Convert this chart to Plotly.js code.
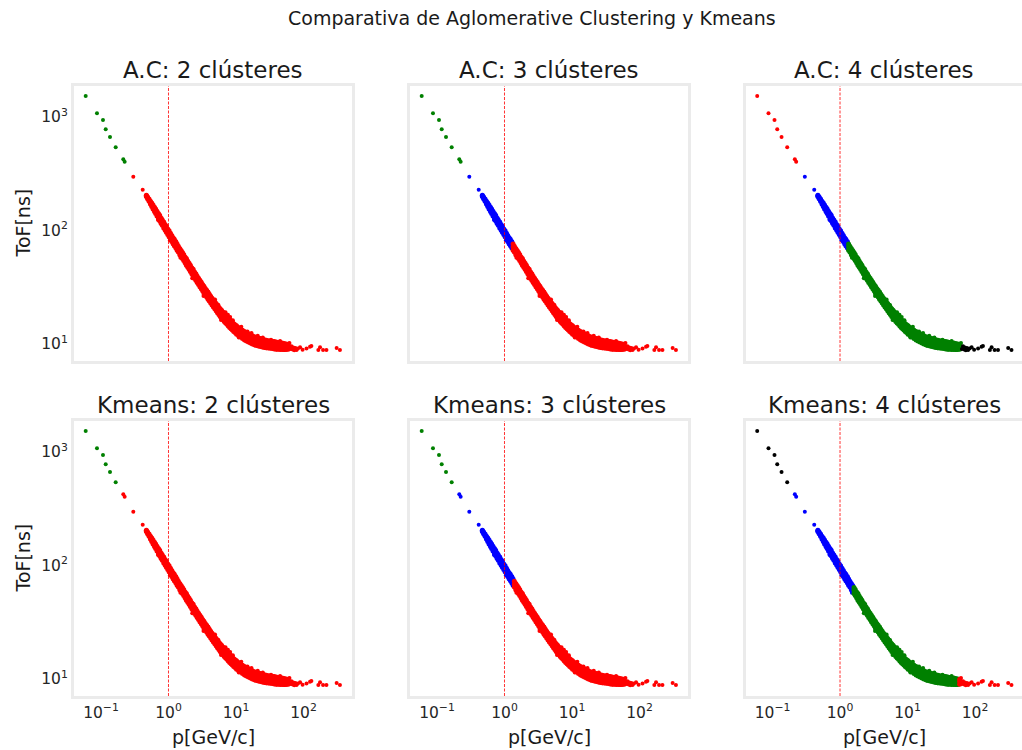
<!DOCTYPE html>
<html>
<head>
<meta charset="utf-8">
<script src="https://cdn.plot.ly/plotly-3.0.1.min.js"></script>
<style>
  html, body { margin: 0; padding: 0; background: #ffffff; }
  #chart { width: 1022px; height: 750px; }
</style>
</head>
<body>
<div id="chart"></div>
<script>
// Momentum p [GeV/c] and time of flight [ns] of the sample.
// Low-momentum isolated points.
const pHead   = [0.0593, 0.0872, 0.107, 0.1174, 0.136, 0.165, 0.214, 0.224, 0.301, 0.415];
const tofHead = [1531, 1078, 942, 780, 667, 541, 424, 403, 298, 228];

// Dense band: each momentum has an upper, a middle and a lower measurement.
const pBand = [0.47, 0.49, 0.515, 0.54, 0.565, 0.59, 0.62, 0.645, 0.675, 0.71, 0.74, 0.775, 0.81, 0.85,
  0.89, 0.93, 0.975, 1.02, 1.07, 1.12, 1.17, 1.22, 1.28, 1.34, 1.40, 1.47, 1.54, 1.61, 1.68, 1.76, 1.84,
  1.93, 2.02, 2.11, 2.21, 2.32, 2.43, 2.54, 2.66, 2.79, 2.92, 3.06, 3.20, 3.35, 3.51, 3.68, 3.85, 4.03,
  4.22, 4.42, 4.63, 4.85, 5.08, 5.32, 5.57, 5.83, 6.11, 6.40, 6.70, 7.02, 7.35, 7.70, 8.06, 8.44, 8.84,
  9.26, 9.70, 10.2, 10.9, 11.7, 12.5, 13.4, 14.3, 15.3, 16.4, 17.5, 18.8, 20.1, 21.5, 23.0, 24.6, 26.3,
  28.2, 30.1, 32.2, 34.5, 36.9, 39.5, 42.3, 45.2, 48.4, 51.8, 55.4, 59.3];
const tofUpper = [204, 197, 189, 181, 175, 168, 160, 155, 148, 141, 136, 129, 124, 119,
  113, 109, 103, 99.5, 94.5, 90.5, 86.5, 83.5, 79, 76, 72.5, 69.5, 66.5, 64, 61.5, 58.5, 56.5,
  53.5, 51.5, 49.5, 47, 45.5, 43, 41.5, 39.5, 38, 36.5, 35, 33.4, 32.2, 30.8, 29.8, 28.4, 27.4,
  26.4, 25.3, 24.4, 23.5, 22.7, 21.9, 21.1, 20.4, 19.8, 19.1, 18.6, 18.0, 17.5, 17.0, 16.4, 16.0, 15.6,
  15.1, 14.8, 14.5, 14.0, 13.6, 13.2, 12.85, 12.55, 12.3, 12.05, 11.8, 11.6, 11.45, 11.3, 11.15, 11.0, 10.9,
  10.8, 10.7, 10.6, 10.55, 10.5, 10.4, 10.3, 10.25, 10.2, 10.1, 10.0, 9.95];
const tofMiddle = [202, 194, 185, 177, 168.5, 161, 154, 147.5, 141, 134.5, 128.5, 123, 118, 112,
  107.5, 102.5, 98, 93.5, 89.5, 85.5, 81.5, 78.5, 75, 71.5, 68.5, 65.5, 63, 60.5, 57.8, 55.3, 53,
  50.6, 48.4, 46.4, 44.4, 42.6, 40.6, 38.9, 37.2, 35.7, 34.2, 32.7, 31.4, 30.1, 28.9, 27.8, 26.6, 25.6,
  24.6, 23.7, 22.7, 21.9, 21.1, 20.3, 19.6, 18.9, 18.3, 17.7, 17.2, 16.6, 16.1, 15.6, 15.2, 14.8, 14.35,
  14.0, 13.6, 13.3, 12.9, 12.5, 12.15, 11.8, 11.55, 11.3, 11.1, 10.9, 10.7, 10.55, 10.4, 10.3, 10.2, 10.1,
  10.0, 9.9, 9.85, 9.8, 9.75, 9.7, 9.65, 9.6, 9.55, 9.55, 9.5, 9.5];
const tofLower = [199, 190, 181, 171, 163, 155, 147, 141, 134, 127, 122, 116, 111, 105,
  101, 96.5, 92, 88, 84, 80, 76.5, 73.5, 70.5, 67, 64.5, 61, 59, 56.5, 54.5, 52, 49.5,
  47.5, 45.5, 43.5, 41.5, 39.5, 38, 36.5, 34.8, 33.4, 32, 30.6, 29.4, 28, 27, 25.9, 24.8, 23.9,
  23, 22, 21.2, 20.4, 19.6, 18.8, 18.2, 17.5, 16.9, 16.4, 15.8, 15.3, 14.9, 14.4, 14.0, 13.6, 13.3,
  12.9, 12.6, 12.2, 11.85, 11.5, 11.15, 10.85, 10.6, 10.4, 10.2, 10.0, 9.85, 9.7, 9.6, 9.5, 9.4, 9.3,
  9.25, 9.2, 9.15, 9.1, 9.05, 9.0, 9.0, 8.95, 8.95, 8.95, 8.95, 9.0];

// Points lying off the band edges.
const pScatter   = [0.555, 0.7, 0.8, 1.05, 1.3, 1.5, 1.9, 2.25, 2.6, 3.3, 3.9, 4.9, 5.5, 6.0, 7.0, 7.6,
  8.2, 9.0, 11, 12.0, 14.8, 17.0, 19, 21, 25, 28, 33, 40, 45, 52, 62];
const tofScatter = [167, 124, 126, 82, 80.5, 57.5, 55, 38, 41, 26.5, 28.8, 24.6, 22, 16.3, 19.0, 18.1,
  17.3, 16.2, 11.4, 14.2, 12.9, 12.5, 9.7, 11.8, 11.4, 9.15, 10.9, 8.95, 10.6, 8.85, 10.2];

// High-momentum tail.
const pTail   = [64, 66.5, 69, 71, 73, 76, 79, 83, 89, 97, 111, 125, 131, 166, 176, 195, 219, 310, 347];
const tofTail = [9.05, 9.55, 8.95, 9.3, 8.8, 9.2, 8.85, 9.1, 9.35, 8.9, 9.1, 9.45, 9.6, 8.85, 9.35,
  8.85, 8.85, 9.2, 8.85];

// Cluster boundaries in p (GeV/c) and the colour of each cluster, per panel.
const acTwoBreaks = [0.26];            const acTwoColors = ['#008000', '#ff0000'];
const acThreeBreaks = [0.26, 1.33];    const acThreeColors = ['#008000', '#0000ff', '#ff0000'];
const acFourBreaks = [0.26, 1.33, 63]; const acFourColors = ['#ff0000', '#0000ff', '#008000', '#000000'];
const kmTwoBreaks = [0.19];            const kmTwoColors = ['#008000', '#ff0000'];
const kmThreeBreaks = [0.19, 1.4];     const kmThreeColors = ['#008000', '#0000ff', '#ff0000'];
const kmFourBreaks = [0.19, 1.57, 58]; const kmFourColors = ['#000000', '#0000ff', '#008000', '#ff0000'];

const panelTitles = ['A.C: 2 clústeres', 'A.C: 3 clústeres', 'A.C: 4 clústeres',
                     'Kmeans: 2 clústeres', 'Kmeans: 3 clústeres', 'Kmeans: 4 clústeres'];
const panelBreaks = [acTwoBreaks, acThreeBreaks, acFourBreaks, kmTwoBreaks, kmThreeBreaks, kmFourBreaks];
const panelColors = [acTwoColors, acThreeColors, acFourColors, kmTwoColors, kmThreeColors, kmFourColors];

const xTickVals = [0.1, 1, 10, 100];
const xTickText = ['10<sup>−1</sup>', '10<sup>0</sup>', '10<sup>1</sup>', '10<sup>2</sup>'];
const yTickVals = [10, 100, 1000];
const yTickText = ['10<sup>1</sup>', '10<sup>2</sup>', '10<sup>3</sup>'];
const cutMomentum = 1; // reference line at p = 1 GeV/c

// Full sample; band points are drawn a little larger so the dense region reads as solid
const momentum = [].concat(pHead, pBand, pBand, pBand, pScatter, pTail);
const tof = [].concat(tofHead, tofUpper, tofMiddle, tofLower, tofScatter, tofTail);
const bandStart = pHead.length, bandEnd = pHead.length + 3 * pBand.length;
const markerSize = momentum.map((_, j) => (j >= bandStart && j < bandEnd) ? 5 : 4);

// Page geometry (pixels)
const W = 1022, H = 750;
const fx = px => px / W;
const fy = py => 1 - py / H;
const colPx = [[74, 352], [410, 688], [746, 1022]];
const rowPx = [[86, 361], [421, 696]];
const xRanges = [[-1.40, 2.719], [-1.40, 2.719], [-1.393, 2.696]];
const yRange = [0.85, 3.273];
const FONT = 'DejaVu Sans, sans-serif';
const INK = '#262626';

const traces = [];
const layout = {
  width: W, height: H,
  margin: { l: 0, r: 0, t: 0, b: 0, pad: 0 },
  paper_bgcolor: '#ffffff', plot_bgcolor: '#ffffff',
  showlegend: false,
  font: { family: FONT, color: INK },
  annotations: []
};

function clusterOf(p, breaks) {
  let k = 0;
  while (k < breaks.length && p >= breaks[k]) k++;
  return k;
}

for (let i = 0; i < 6; i++) {
  const row = Math.floor(i / 3), col = i % 3;
  const sfx = i === 0 ? '' : String(i + 1);
  const breaks = panelBreaks[i], colors = panelColors[i];

  colors.forEach((c, k) => {
    const xs = [], ys = [], ss = [];
    momentum.forEach((p, j) => {
      if (clusterOf(p, breaks) === k) { xs.push(p); ys.push(tof[j]); ss.push(markerSize[j]); }
    });
    traces.push({
      type: 'scatter', mode: 'markers', x: xs, y: ys,
      xaxis: 'x' + sfx, yaxis: 'y' + sfx,
      marker: { size: ss, color: c, opacity: 1, line: { width: 0 } },
      hoverinfo: 'skip'
    });
  });

  traces.push({
    type: 'scatter', mode: 'lines',
    x: [cutMomentum, cutMomentum],
    y: [Math.pow(10, yRange[0]), Math.pow(10, yRange[1])],
    xaxis: 'x' + sfx, yaxis: 'y' + sfx,
    line: { color: 'rgba(255,0,0,0.8)', width: 1, dash: '3px,1.5px' },
    hoverinfo: 'skip'
  });

  const axisBase = {
    type: 'log', showgrid: false, zeroline: false,
    showline: true, mirror: true, linecolor: '#ebebeb', linewidth: 3,
    ticks: '', tickfont: { family: FONT, size: 15.5, color: INK },
    tickmode: 'array'
  };
  layout['xaxis' + sfx] = Object.assign({}, axisBase, {
    domain: [fx(colPx[col][0]), fx(colPx[col][1])],
    range: xRanges[col],
    anchor: 'y' + sfx,
    tickvals: xTickVals, ticktext: xTickText,
    showticklabels: row === 1
  });
  layout['yaxis' + sfx] = Object.assign({}, axisBase, {
    domain: [fy(rowPx[row][1]), fy(rowPx[row][0])],
    range: yRange,
    anchor: 'x' + sfx,
    tickvals: yTickVals, ticktext: yTickText,
    showticklabels: col === 0
  });

  layout.annotations.push({
    text: panelTitles[i], xref: 'paper', yref: 'paper',
    x: fx((colPx[col][0] + colPx[col][1]) / 2), y: fy(rowPx[row][0] - 16),
    xanchor: 'center', yanchor: 'middle', showarrow: false,
    font: { family: FONT, size: 23, color: '#1a1a1a' }
  });
  if (row === 1) {
    layout.annotations.push({
      text: 'p[GeV/c]', xref: 'paper', yref: 'paper',
      x: fx((colPx[col][0] + colPx[col][1]) / 2), y: fy(737),
      xanchor: 'center', yanchor: 'middle', showarrow: false,
      font: { family: FONT, size: 19, color: '#1a1a1a' }
    });
  }
  if (col === 0) {
    layout.annotations.push({
      text: 'ToF[ns]', xref: 'paper', yref: 'paper',
      x: fx(22), y: fy((rowPx[row][0] + rowPx[row][1]) / 2),
      xanchor: 'center', yanchor: 'middle', textangle: -90, showarrow: false,
      font: { family: FONT, size: 19, color: '#1a1a1a' }
    });
  }
}

layout.annotations.push({
  text: 'Comparativa de Aglomerative Clustering y Kmeans', xref: 'paper', yref: 'paper',
  x: fx(532), y: fy(18), xanchor: 'center', yanchor: 'middle', showarrow: false,
  font: { family: FONT, size: 19, color: '#1a1a1a' }
});

Plotly.newPlot('chart', traces, layout, { staticPlot: true, displayModeBar: false });
</script>
</body>
</html>
